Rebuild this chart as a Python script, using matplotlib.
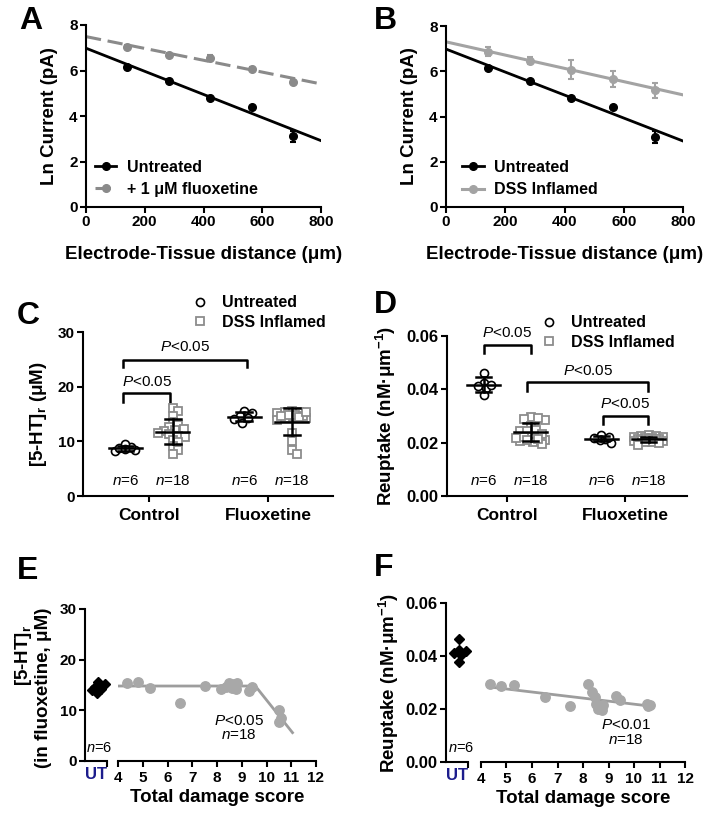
import numpy as np
import matplotlib
matplotlib.use('Agg')
import matplotlib.pyplot as plt
from matplotlib.lines import Line2D

plt.rcParams['font.family'] = ['Liberation Sans', 'DejaVu Sans']
plt.rcParams['mathtext.fontset'] = 'custom'
plt.rcParams['mathtext.rm'] = 'Liberation Sans'
plt.rcParams['mathtext.it'] = 'Liberation Sans:italic'
plt.rcParams['mathtext.bf'] = 'Liberation Sans:bold'

# ---------------- data ----------------
# Panels A/B : Ln current vs electrode-tissue distance
distance = [141, 282, 423, 564, 705]
untreated_ln = [6.15, 5.55, 4.80, 4.40, 3.10]
untreated_err = [0.08, 0.06, 0.08, 0.06, 0.25]
fluox_ln = [7.05, 6.70, 6.55, 6.08, 5.50]
fluox_err = [0.07, 0.08, 0.15, 0.08, 0.08]
dss_ln = [6.86, 6.46, 6.06, 5.67, 5.15]
dss_err = [0.20, 0.15, 0.42, 0.35, 0.32]
# regression fits: (intercept, slope)
fit_untreated = (6.98, -0.00508)
fit_fluox = (7.49, -0.00260)
fit_dss = (7.30, -0.00293)
fit_range = [0, 800]

# Panels C/D categories
categories = ['Control', 'Fluoxetine']
group_names = ['Untreated', 'DSS Inflamed']

# Panel C: [5-HT]r (uM)
c_untreated_control = [8.2, 8.5, 8.7, 8.9, 9.6, 8.6]
c_dss_control = [16.1, 15.6, 14.7, 13.6, 13.0, 12.6, 12.3, 12.0, 11.8,
                 11.6, 11.3, 11.0, 10.8, 10.3, 9.8, 9.2, 8.4, 7.6]
c_untreated_fluox = [15.6, 15.2, 14.6, 14.0, 13.4, 14.2]
# Panel E (DSS inflamed, in fluoxetine): damage score vs [5-HT]r
e_score = [4.35, 4.8, 5.3, 6.5, 7.5, 8.15, 8.35, 8.5, 8.6, 8.7, 8.8, 8.75,
           8.6, 9.3, 9.4, 10.5, 10.6, 10.5]
e_value = [15.3, 15.5, 14.5, 11.5, 14.9, 14.2, 14.6, 15.3, 14.4, 15.1, 15.3,
           14.3, 14.8, 13.9, 14.6, 10.1, 8.4, 7.6]
c_dss_fluox = e_value
e_ut_value = c_untreated_fluox
e_fit_x = [4.0, 9.55, 11.05]
e_fit_y = [14.8, 14.8, 5.6]

# Panel D: Reuptake (nM/um)
d_untreated_control = [0.0463, 0.0424, 0.0413, 0.0405, 0.0418, 0.0377]
f_score = [4.35, 4.78, 5.29, 6.5, 7.49, 8.2, 8.37, 8.46, 8.52, 8.64, 8.73,
           8.6, 8.8, 9.3, 9.45, 10.5, 10.55, 10.63]
f_value = [0.0296, 0.0286, 0.0289, 0.0245, 0.0211, 0.0293, 0.0264, 0.0245,
           0.0220, 0.0208, 0.0195, 0.0201, 0.0216, 0.0249, 0.0233, 0.0220,
           0.0211, 0.0214]
d_dss_control = f_value
d_untreated_fluox = [0.0200, 0.0215, 0.0222, 0.0228, 0.0210, 0.0218]
d_dss_fluox = [0.0228, 0.0225, 0.0224, 0.0222, 0.0220, 0.0218, 0.0217,
               0.0215, 0.0214, 0.0213, 0.0212, 0.0210, 0.0208, 0.0206,
               0.0204, 0.0201, 0.0197, 0.0191]
f_ut_value = d_untreated_control
f_fit_x = [4.35, 10.63]
f_fit_y = [0.0283, 0.0211]

# ---------------- style ----------------
W, H = 709, 814
fig = plt.figure(figsize=(W / 100, H / 100), dpi=100)
TICK_FS = 11
LAB_FS = 13.5
BLACK = 'black'
GRAY_A = '#8a8a8a'
GRAY_B = '#a3a3a3'
SQ_GRAY = '#8c8c8c'
DOT_GRAY = '#a8a8a8'
UT_BLUE = '#1c1c8c'


def add_ax(x0, y0, x1, y1):
    return fig.add_axes([x0 / W, 1 - y1 / H, (x1 - x0) / W, (y1 - y0) / H])


def style(ax, left=True):
    ax.spines['top'].set_visible(False)
    ax.spines['right'].set_visible(False)
    ax.spines['left'].set_visible(left)
    for s in ['left', 'bottom']:
        ax.spines[s].set_linewidth(1.5)
    ax.tick_params(width=1.5, length=4, labelsize=TICK_FS, direction='out', pad=2)
    for t in ax.get_xticklabels() + ax.get_yticklabels():
        t.set_fontweight('bold')
    ax.patch.set_alpha(0)


def letter(x, y, s):
    fig.text(x / W, 1 - y / H, s, fontsize=23, fontweight='bold', ha='left', va='top')


def swarm(values, center, px_x, px_y, diam, max_hw):
    vals = np.asarray(values, float)
    order = np.argsort(-vals)
    placed = []
    offs = np.zeros(len(vals))
    step = diam * 0.3
    cands = [0.0]
    k = 1
    while k * step <= max_hw:
        cands += [k * step, -k * step]
        k += 1
    for i in order:
        y = vals[i] * px_y
        best, bestd = 0.0, -1
        for c in cands:
            d = min((np.hypot(c - p, y - q) for p, q in placed), default=np.inf)
            if d >= diam:
                best = c
                break
            if d > bestd:
                bestd, best = d, c
        offs[i] = best
        placed.append((best, y))
    return center + offs / px_x


# ---------------- Panels A and B ----------------
def ln_panel(box, other_y, other_err, other_fit, other_color, other_label, dashed, leg_anchor):
    ax = add_ax(*box)
    xf = np.array(fit_range, float)
    ax.errorbar(distance, untreated_ln, yerr=untreated_err, fmt='o', color=BLACK,
                ms=5.5, capsize=2.5, elinewidth=1.5, capthick=1.5, zorder=3)
    ax.plot(xf, fit_untreated[0] + fit_untreated[1] * xf, color=BLACK, lw=2.0, zorder=2)
    ax.errorbar(distance, other_y, yerr=other_err, fmt='o', color=other_color,
                ms=5.5, capsize=2.5, elinewidth=1.5, capthick=1.5, zorder=3)
    ls = (0, (5, 2.2)) if dashed else '-'
    ax.plot(xf, other_fit[0] + other_fit[1] * xf, color=other_color, lw=2.2, ls=ls, zorder=2)
    ax.set_xlim(0, 800)
    ax.set_ylim(0, 8)
    ax.set_xticks([0, 200, 400, 600, 800])
    ax.set_yticks([0, 2, 4, 6, 8])
    style(ax)
    ax.set_xlabel('Electrode-Tissue distance (μm)', fontsize=LAB_FS, fontweight='bold', labelpad=12)
    ax.set_ylabel('Ln Current (pA)', fontsize=LAB_FS, fontweight='bold', labelpad=8)
    h1 = Line2D([], [], color=BLACK, marker='o', ms=5.5, lw=2)
    h2 = Line2D([], [], color=other_color, marker='o', ms=5.5, lw=2.2, ls=ls)
    ax.legend([h1, h2], ['Untreated', other_label], loc='upper left',
              bbox_to_anchor=leg_anchor, frameon=False, borderpad=0,
              borderaxespad=0, handlelength=1.35, handletextpad=0.65,
              labelspacing=0.45, prop={'size': 11.5, 'weight': 'bold'})
    return ax


axA = ln_panel((86, 25, 321, 207), fluox_ln, fluox_err, fit_fluox, GRAY_A,
               '+ 1 μM fluoxetine', True, (0.038, 0.26))
axB = ln_panel((446, 26, 683, 207), dss_ln, dss_err, fit_dss, GRAY_B,
               'DSS Inflamed', False, (0.068, 0.26))
letter(19, 6, 'A')
letter(374, 6, 'B')


# ---------------- Panels C and D ----------------
def mean_sd(ax, x, vals, half=0.14, cap=0.065):
    m = np.mean(vals)
    s = np.std(vals, ddof=1)
    ax.plot([x - half, x + half], [m, m], color=BLACK, lw=1.8, zorder=5)
    ax.plot([x, x], [m - s, m + s], color=BLACK, lw=1.8, zorder=5)
    for yy in (m - s, m + s):
        ax.plot([x - cap, x + cap], [yy, yy], color=BLACK, lw=1.8, zorder=5)


def bracket(ax, x1, x2, y, ydrop, ytext):
    ax.plot([x1, x1, x2, x2], [ydrop, y, y, ydrop], color=BLACK, lw=1.8, clip_on=False)
    ax.text((x1 + x2) / 2, ytext, r'$\mathit{P}$<0.05', ha='center', va='center', fontsize=11)


def group_panel(box, groups, px_x, px_y, ylim, yticks, yfmt, ylabel, ylabelpad, nlab_y,
                leg_anchor, ytick_fs):
    ax = add_ax(*box)
    off = 0.2
    for ci, (u, d) in enumerate(groups):
        cx = ci + 1
        xu = swarm(u, cx - off, px_x, px_y, 6.5, 11)
        xd = swarm(d, cx + off, px_x, px_y, 6.0, 16)
        ax.plot(xu, u, 'o', ms=5.8, mfc='white', mec=BLACK, mew=1.2, ls='none', zorder=3)
        ax.plot(xd, d, 's', ms=5.2, mfc='white', mec=SQ_GRAY, mew=1.3, ls='none', zorder=3)
        mean_sd(ax, cx - off, u)
        mean_sd(ax, cx + off, d)
        ax.text(cx - off, nlab_y, r'$\mathit{n}$=%d' % len(u), ha='center', va='center', fontsize=11)
        ax.text(cx + off, nlab_y, r'$\mathit{n}$=%d' % len(d), ha='center', va='center', fontsize=11)
    ax.set_ylim(*ylim)
    ax.set_yticks(yticks)
    ax.set_yticklabels([yfmt % v for v in yticks])
    ax.set_xticks([1, 2])
    ax.set_xticklabels(categories)
    style(ax)
    for t in ax.get_xticklabels():
        t.set_fontsize(12.5)
    for t in ax.get_yticklabels():
        t.set_fontsize(ytick_fs)
    ax.tick_params(axis='x', pad=5)
    ax.set_ylabel(ylabel, fontsize=LAB_FS, fontweight='bold', labelpad=ylabelpad)
    h1 = Line2D([], [], marker='o', ms=5.8, mfc='white', mec=BLACK, mew=1.2, ls='none')
    h2 = Line2D([], [], marker='s', ms=5.2, mfc='white', mec=SQ_GRAY, mew=1.3, ls='none')
    ax.legend([h1, h2], group_names, loc='upper left', bbox_to_anchor=leg_anchor,
              frameon=False, borderpad=0, borderaxespad=0, handlelength=0.8,
              handletextpad=0.95, labelspacing=0.3, prop={'size': 11.5, 'weight': 'bold'})
    return ax


axC = group_panel((83, 332, 333, 496),
                  [(c_untreated_control, c_dss_control), (c_untreated_fluox, c_dss_fluox)],
                  119, 5.47, (0, 30), [0, 10, 20, 30], '%d',
                  r'[5-HT]$_{\mathbf{r}}$ (μM)', 6, 2.75, (0.444, 1.225), 11)
axC.set_xlim(0.445, 2.546)
bracket(axC, 0.78, 1.82, 24.9, 23.6, 27.3)
bracket(axC, 0.78, 1.18, 18.8, 17.2, 20.8)

axD = group_panel((447, 336, 687, 496),
                  [(d_untreated_control, d_dss_control), (d_untreated_fluox, d_dss_fluox)],
                  118, 2667, (0, 0.06), [0, 0.02, 0.04, 0.06], '%.2f',
                  r'Reuptake (nM·μm$^{\mathbf{-1}}$)', 6, 0.0058, (0.40, 1.13), 12)
axD.set_xlim(0.49, 2.525)
bracket(axD, 0.805, 1.20, 0.0566, 0.0536, 0.0611)
bracket(axD, 1.17, 2.195, 0.0428, 0.0394, 0.0469)
bracket(axD, 1.81, 2.195, 0.0300, 0.0270, 0.0345)
letter(17, 301, 'C')
letter(374, 290, 'D')


# ---------------- Panels E and F ----------------
def score_panel(box_ut, box_main, ut_vals, scores, vals, fitx, fity, ylim, yticks, yfmt,
                px_y, ptxt, ptxt_xy, n6_xy, ytick_fs):
    axu = add_ax(*box_ut)
    axm = add_ax(*box_main)
    xu = swarm(ut_vals, 0.6, 22, px_y, 5.5, 8)
    axu.plot(xu, ut_vals, 'D', ms=5.5, color=BLACK, ls='none', clip_on=False, zorder=3)
    axu.set_xlim(0, 1)
    axu.set_ylim(*ylim)
    axu.set_yticks(yticks)
    axu.set_yticklabels([yfmt % v for v in yticks])
    axu.set_xticks([0.5])
    axu.set_xticklabels(['UT'])
    axu.set_xticks([1.0], minor=True)
    style(axu)
    for t in axu.get_yticklabels():
        t.set_fontsize(ytick_fs)
    axu.tick_params(axis='x', which='major', length=0, pad=4)
    axu.tick_params(axis='x', which='minor', length=4, width=1.5)
    for t in axu.get_xticklabels():
        t.set_color(UT_BLUE)
        t.set_fontsize(12)
    axu.text(n6_xy[0], n6_xy[1], r'$\mathit{n}$=6', ha='center', va='center', fontsize=10.5,
             clip_on=False)

    axm.plot(fitx, fity, color='#9d9d9d', lw=2.0, zorder=2)
    axm.plot(scores, vals, 'o', ms=6.8, color=DOT_GRAY, ls='none', zorder=3, clip_on=False)
    axm.set_xlim(4, 12)
    axm.set_ylim(*ylim)
    axm.set_xticks(range(4, 13))
    axm.set_yticks([])
    style(axm, left=False)
    axm.tick_params(axis='x', pad=3)
    axm.text(ptxt_xy[0], ptxt_xy[1], ptxt, ha='center', va='center', fontsize=11)
    axm.text(ptxt_xy[0], ptxt_xy[2], r'$\mathit{n}$=18', ha='center', va='center', fontsize=11)
    axm.set_xlabel('Total damage score', fontsize=LAB_FS, fontweight='bold', labelpad=3)
    return axu, axm


axEu, axE = score_panel((85, 609, 107, 761), (118, 609, 316, 761), e_ut_value, e_score, e_value,
                        e_fit_x, e_fit_y, (0, 30), [0, 10, 20, 30], '%d', 5.07,
                        r'$\mathit{P}$<0.05', (8.9, 7.9, 5.1), (0.64, 2.6), 11)
axFu, axF = score_panel((446, 603, 468, 762), (481, 603, 685, 762), f_ut_value, f_score, f_value,
                        f_fit_x, f_fit_y, (0, 0.06), [0, 0.02, 0.04, 0.06], '%.2f', 2650,
                        r'$\mathit{P}$<0.01', (9.69, 0.0140, 0.0083), (0.68, 0.0053), 12)
fig.text(23 / W, 1 - 655 / H, r'[5-HT]$_{\mathbf{r}}$', rotation=90, ha='center', va='center',
         fontsize=LAB_FS, fontweight='bold')
fig.text(44 / W, 1 - 688 / H, '(in fluoxetine, μM)', rotation=90, ha='center', va='center',
         fontsize=LAB_FS, fontweight='bold')
axFu.set_ylabel(r'Reuptake (nM·μm$^{\mathbf{-1}}$)', fontsize=LAB_FS, fontweight='bold', labelpad=3)
letter(17, 556, 'E')
letter(374, 553, 'F')

fig.savefig('out.png', dpi=100)
